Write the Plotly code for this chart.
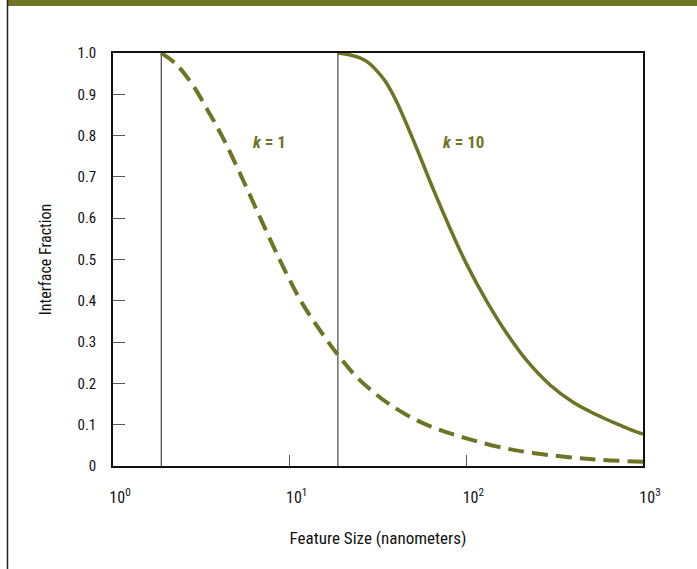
import math
import plotly.graph_objects as go

# ---- data ----
k1_size = [1.875, 2.25, 2.8, 3.47, 4.22, 5.41, 7, 9, 11.55, 14.6, 18.75, 24, 30, 36, 50, 70, 100, 150, 243, 500, 1000]
k1_frac = [1.0, 0.975, 0.925, 0.858, 0.792, 0.695, 0.59, 0.49, 0.40, 0.333, 0.269, 0.215, 0.178, 0.152, 0.115, 0.088, 0.067, 0.047, 0.031, 0.017, 0.01]

k10_size = [18.75, 22, 25, 28, 31, 35, 40, 50, 65, 80, 100, 130, 170, 220, 300, 400, 500, 585, 700, 850, 1000]
k10_frac = [1.0, 0.995, 0.988, 0.976, 0.958, 0.93, 0.885, 0.79, 0.67, 0.58, 0.49, 0.40, 0.32, 0.255, 0.195, 0.155, 0.132, 0.118, 0.103, 0.088, 0.077]

boundary_sizes = [1.875, 18.75]

x_tick_vals = [1, 10, 100, 1000]
x_tick_text = ["10<sup>0</sup>", "10<sup>1</sup>", "10<sup>2</sup>", "10<sup>3</sup>"]
y_tick_vals = [0, 0.1, 0.2, 0.3, 0.4, 0.5, 0.6, 0.7, 0.8, 0.9, 1.0]
y_tick_text = ["0", "0.1", "0.2", "0.3", "0.4", "0.5", "0.6", "0.7", "0.8", "0.9", "1.0"]

labels = ["<i>k</i> = 1", "<i>k</i> = 10"]
label_x = [7.6, 96]
label_y = [0.785, 0.785]

OLIVE = "#6f7424"
FONT = "Roboto Condensed, Liberation Sans Narrow, Roboto, sans-serif"

fig = go.Figure()

for b in boundary_sizes:
    fig.add_trace(go.Scatter(x=[b, b], y=[0, 1], mode="lines",
                             line=dict(color="#222222", width=1), showlegend=False,
                             hoverinfo="skip"))

fig.add_trace(go.Scatter(x=k1_size, y=k1_frac, mode="lines", line_shape="spline",
                         line=dict(color=OLIVE, width=4, dash="16px,8px"),
                         showlegend=False))
fig.add_trace(go.Scatter(x=k10_size, y=k10_frac, mode="lines", line_shape="spline",
                         line=dict(color=OLIVE, width=3.5), showlegend=False))

for t, x, y in zip(labels, label_x, label_y):
    fig.add_annotation(x=math.log10(x), y=y, xref="x", yref="y", text="<b>" + t + "</b>",
                       showarrow=False, font=dict(family=FONT, size=17, color=OLIVE))

fig.update_layout(
    width=697, height=569,
    margin=dict(l=113, r=54, t=53, b=103),
    paper_bgcolor="white", plot_bgcolor="white",
    font=dict(family=FONT, size=15, color="#111111"),
    shapes=[
        dict(type="rect", xref="paper", yref="paper", x0=-0.2, x1=1.2,
             y0=1 + 47 / 413, y1=1 + 60 / 413, fillcolor=OLIVE, line_width=0, layer="below"),
        dict(type="line", xref="paper", yref="paper",
             x0=-105.5 / 530, x1=-105.5 / 530, y0=-110 / 413, y1=1 + 60 / 413,
             line=dict(color="#222222", width=1.5)),
    ],
)

fig.update_xaxes(type="log", range=[0, 3], tickvals=x_tick_vals, ticktext=x_tick_text,
                 ticks="inside", ticklen=11, tickcolor="#555555", tickwidth=1,
                 showline=True, linecolor="#111111", linewidth=1.5, mirror=True,
                 showgrid=False, zeroline=False,
                 ticklabelstandoff=16, ticklabelshift=7,
                 tickfont=dict(size=16),
                 title=dict(text="Feature Size (nanometers)", standoff=26, font=dict(size=17)))
fig.update_yaxes(range=[0, 1], tickvals=y_tick_vals, ticktext=y_tick_text,
                 ticks="inside", ticklen=12, tickcolor="#555555", tickwidth=1,
                 showline=True, linecolor="#111111", linewidth=1.5, mirror=True,
                 showgrid=False, zeroline=False,
                 ticklabelstandoff=12,
                 tickfont=dict(size=15),
                 title=dict(text="Interface Fraction", standoff=22, font=dict(size=16)))

fig.write_html("out.html", config={"displayModeBar": False},
               post_script="document.body.style.margin='0px';")
